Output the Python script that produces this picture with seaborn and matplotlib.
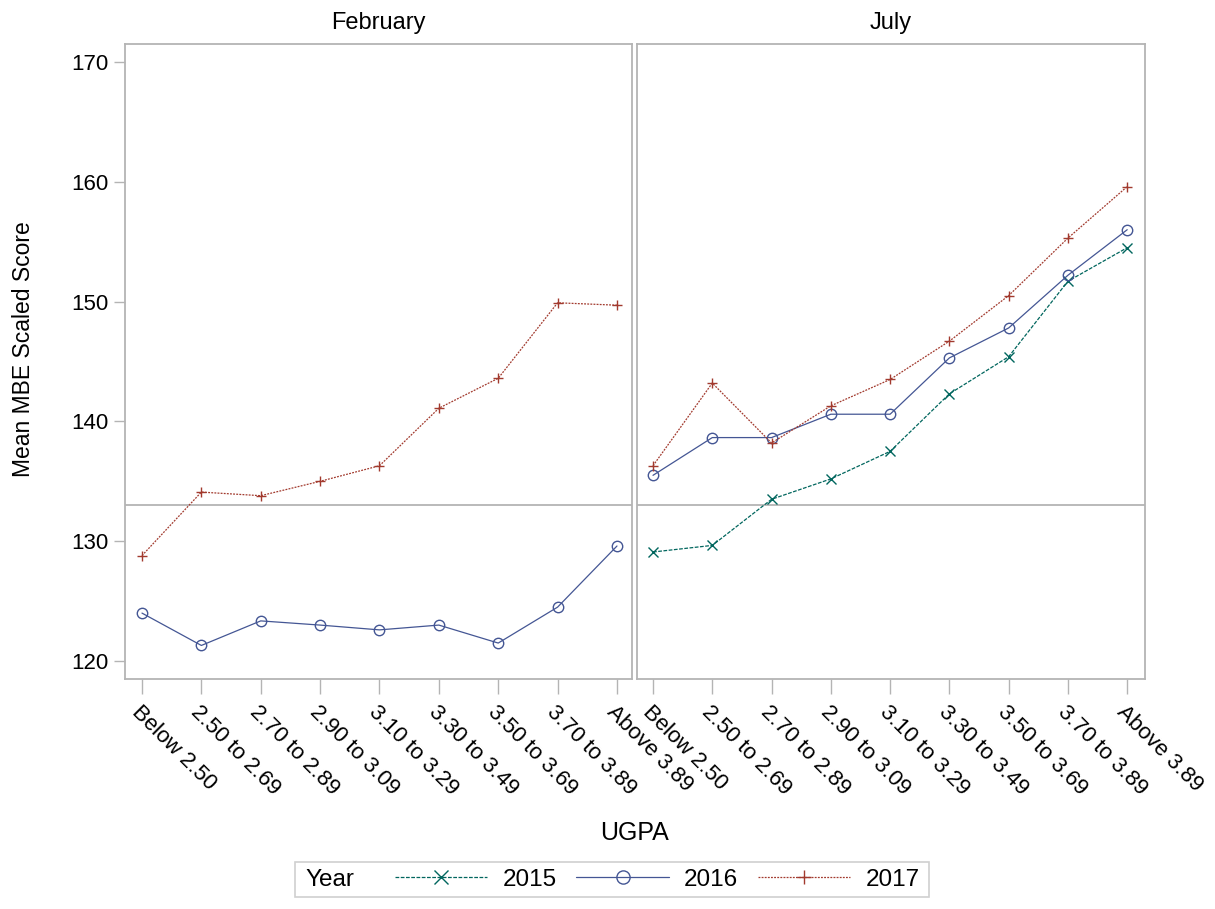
import pandas as pd
import seaborn as sns
import matplotlib.pyplot as plt
from matplotlib.lines import Line2D
from matplotlib.patches import Rectangle

# --- Data ---
ugpa = ["Below 2.50", "2.50 to 2.69", "2.70 to 2.89", "2.90 to 3.09", "3.10 to 3.29",
        "3.30 to 3.49", "3.50 to 3.69", "3.70 to 3.89", "Above 3.89"]
sessions = ["February", "July"]
years = [2015, 2016, 2017]

feb_2016 = [124.0, 121.3, 123.35, 123.0, 122.6, 123.0, 121.5, 124.5, 129.6]
feb_2017 = [128.8, 134.1, 133.8, 135.0, 136.3, 141.1, 143.6, 149.9, 149.7]
jul_2015 = [129.1, 129.65, 133.5, 135.2, 137.5, 142.3, 145.4, 151.7, 154.5]
jul_2016 = [135.5, 138.65, 138.65, 140.6, 140.6, 145.3, 147.8, 152.2, 156.0]
jul_2017 = [136.3, 143.2, 138.2, 141.3, 143.5, 146.7, 150.5, 155.3, 159.6]

pass_line = 133

yticks = [120, 130, 140, 150, 160, 170]

# --- Long-form table ---
frames = []
for session, year, vals in [("February", 2016, feb_2016), ("February", 2017, feb_2017),
                            ("July", 2015, jul_2015), ("July", 2016, jul_2016),
                            ("July", 2017, jul_2017)]:
    frames.append(pd.DataFrame({"Session": session, "Year": year, "UGPA": ugpa, "Score": vals}))
df = pd.concat(frames, ignore_index=True)

# --- Styling ---
sns.set_style("white")
plt.rcParams["font.family"] = ["Liberation Sans", "DejaVu Sans"]
plt.rcParams["text.color"] = "black"
plt.rcParams["xtick.labelcolor"] = "black"
plt.rcParams["ytick.labelcolor"] = "black"

palette = {2015: "#01665E", 2016: "#445694", 2017: "#A23A2E"}
markers = {2015: "x", 2016: "o", 2017: "+"}
dashes = {2015: (3, 1.2), 2016: None, 2017: (1.5, 1)}
grey = "#b4b4b4"

W, H = 1215, 909
fig = plt.figure(figsize=(W / 100, H / 100), dpi=100)

panel_px = {"February": (125, 632), "July": (637, 1145)}
top_px, bottom_px = 44, 679
xlims = {"February": (-0.286, 8.253), "July": (-0.27, 8.30)}


def line_kws(year, ms=7.5):
    kw = dict(color=palette[year], marker=markers[year], markersize=ms,
              mfc="none", mec=palette[year], mew=1.0, lw=0.9)
    if dashes[year] is not None:
        kw["dashes"] = dashes[year]
    return kw


for session in sessions:
    x0, x1 = panel_px[session]
    ax = fig.add_axes([x0 / W, 1 - bottom_px / H, (x1 - x0) / W, (bottom_px - top_px) / H])
    ax.axhline(pass_line, color=grey, lw=1.3, zorder=0)
    sub = df[df["Session"] == session]
    for year in years:
        d = sub[sub["Year"] == year]
        if d.empty:
            continue
        sns.lineplot(data=d, x="UGPA", y="Score", sort=False, legend=False, ax=ax,
                     **line_kws(year))

    ax.set_xlim(*xlims[session])
    ax.set_ylim(118.5, 171.5)
    ax.set_xticks(range(len(ugpa)))
    ax.set_xticklabels(ugpa, rotation=-45, ha="left", va="top", rotation_mode="anchor",
                       fontsize=16)
    ax.tick_params(axis="x", length=11, width=1, color=grey, pad=5, bottom=True)
    ax.set_xlabel("")
    ax.set_ylabel("")
    ax.set_title(session, fontsize=17, pad=11)
    for sp in ax.spines.values():
        sp.set_color(grey)
        sp.set_linewidth(1.3)
    ax.set_yticks(yticks)
    if session == "February":
        ax.set_yticklabels([str(t) for t in yticks], fontsize=16)
        ax.tick_params(axis="y", length=8, width=1, color=grey, pad=4, left=True)
    else:
        ax.tick_params(axis="y", left=False, labelleft=False)

fig.text(24 / W, 1 - 349 / H, "Mean MBE Scaled Score", rotation=90, fontsize=16.5,
         ha="center", va="center")
fig.text(634 / W, 1 - 833 / H, "UGPA", fontsize=18, ha="center", va="center")

# --- Legend at bottom, "Year" inline ---
fig.patches.append(Rectangle((295 / W, 1 - 897 / H), (929 - 295) / W, 35 / H,
                             transform=fig.transFigure, fill=False, edgecolor="#d0d0d0",
                             lw=1.2))
fig.text(305 / W, 1 - 879.5 / H, "Year", fontsize=17.5, ha="left", va="center")
handles = [Line2D([], [], **line_kws(y, ms=9.5)) for y in years]
fig.legend(handles, [str(y) for y in years], loc="center left",
           bbox_to_anchor=(395 / W, 1 - 879.5 / H), ncol=3, frameon=False,
           fontsize=17.5, handlelength=3.8, handletextpad=0.62, columnspacing=0.82,
           borderaxespad=0, borderpad=0)

fig.savefig("out.png", dpi=100)
plt.close(fig)
